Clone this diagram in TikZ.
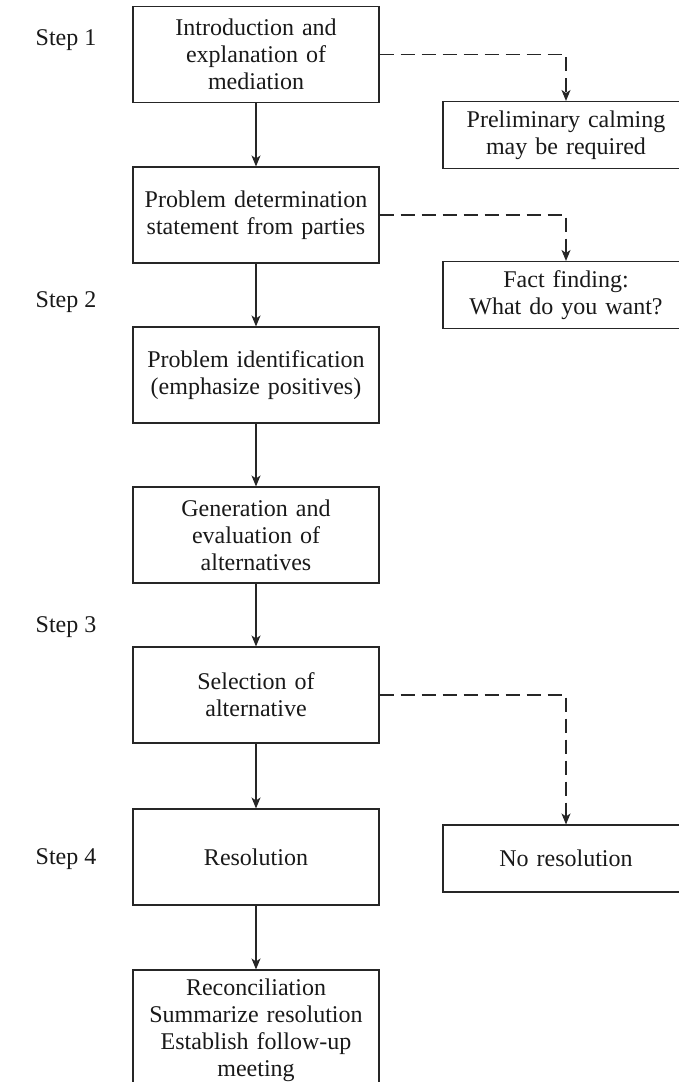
\documentclass[tikz,border=0pt]{standalone}
\usepackage{fontspec}
\setmainfont{Liberation Serif}
\usetikzlibrary{arrows.meta}
\tikzset{
  box/.style={draw=black!85, line width=1.1pt, minimum width=246pt, minimum height=96pt,
    text width=236pt, align=center, inner sep=0pt, text=black!90,
    font=\fontsize{24}{27}\selectfont},
  sidebox/.style={box, minimum height=67pt},
  flow/.style={line width=1.1pt, draw=black!85, -{Stealth[length=11pt,width=9pt,inset=3pt]}},
  alt/.style={flow, dash pattern=on 14pt off 7pt},
  steplabel/.style={font=\fontsize{24}{27}\selectfont, inner sep=0pt, text=black!90}
}
\begin{document}
\begin{tikzpicture}[x=1pt,y=-1pt]
  \useasboundingbox (0,0) rectangle (679,1082);
  \clip (0,0) rectangle (679,1082);

  % main sequence of the session
  \node[box] (b1) at (256,54.5) {Introduction and\\explanation of\\mediation};
  \node[box] (b2) at (256,215) {Problem determination\\statement from parties};
  \node[box] (b3) at (256,375) {Problem identification\\(emphasize positives)};
  \node[box] (b4) at (256,535) {Generation and\\evaluation of\\alternatives};
  \node[box] (b5) at (256,695) {Selection of\\alternative};
  \node[box] (b6) at (256,857) {Resolution};
  \node[box, minimum height=120pt] (b7) at (256,1030)
    {Reconciliation\\Summarize resolution\\Establish follow-up\\meeting};

  % side branches
  \node[sidebox] (r1) at (566,135) {Preliminary calming\\may be required};
  \node[sidebox] (r2) at (566,295) {Fact finding:\\What do you want?};
  \node[sidebox] (r3) at (566,858.5) {No resolution};

  % step labels
  \node[steplabel] (s1) at (66,40) {Step 1};
  \node[steplabel] (s2) at (66,302) {Step 2};
  \node[steplabel] (s3) at (66,627) {Step 3};
  \node[steplabel] (s4) at (66,859) {Step 4};

  % connectors
  \draw[flow] (b1) -- (b2);
  \draw[flow] (b2) -- (b3);
  \draw[flow] (b3) -- (b4);
  \draw[flow] (b4) -- (b5);
  \draw[flow] (b5) -- (b6);
  \draw[flow] (b6) -- (b7);
  \draw[alt] (b1.east) -| (r1.north);
  \draw[alt] (b2.east) -| (r2.north);
  \draw[alt] (b5.east) -| (r3.north);
\end{tikzpicture}
\end{document}
